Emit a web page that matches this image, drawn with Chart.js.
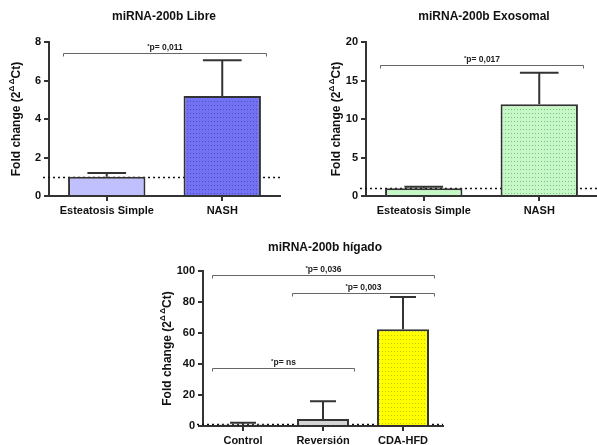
<!DOCTYPE html>
<html>
<head>
<meta charset="utf-8">
<script src="https://cdn.jsdelivr.net/npm/chart.js@4.4.0/dist/chart.umd.min.js"></script>
<style>
  body { margin: 0; background: #fff; }
  .box { position: absolute; }
</style>
</head>
<body>
<div class="box" style="left:0;top:0;width:297px;height:222px"><canvas id="libre"></canvas></div>
<div class="box" style="left:297px;top:0;width:300px;height:222px"><canvas id="exo"></canvas></div>
<div class="box" style="left:150px;top:222px;width:300px;height:223px"><canvas id="higado"></canvas></div>
<script>
const libreLabels = ['Esteatosis Simple', 'NASH'];
const libreMean = [1.0, 5.2];
const libreSem = [0.2, 1.85];

const exoLabels = ['Esteatosis Simple', 'NASH'];
const exoMean = [1.0, 11.9];
const exoSem = [0.2, 4.1];

const higadoLabels = ['Control', 'Reversión', 'CDA-HFD'];
const higadoMean = [0.9, 4.5, 62.5];
const higadoSem = [1.2, 11.5, 20.8];

// significance brackets: [first bar, last bar, height on y axis, p text]
const libreSig = [[0, 1, 7.45, 'p= 0,011']];
const exoSig = [[0, 1, 17.0, 'p= 0,017']];
const higadoSig = [[0, 2, 97.4, 'p= 0,036'], [1, 2, 85.8, 'p= 0,003'], [0, 1, 37.4, 'p= ns']];

const FONT = "'Liberation Sans', Arial, sans-serif";
const AXIS = '#333';

// dotted fill like the GraphPad bars
function dots(canvasId, bg, fg) {
    const c = document.createElement('canvas');
    c.width = 3; c.height = 4;
    const g = c.getContext('2d');
    g.fillStyle = bg; g.fillRect(0, 0, 3, 4);
    g.fillStyle = fg; g.fillRect(1, 1, 1, 1);
    return document.getElementById(canvasId).getContext('2d').createPattern(c, 'repeat');
}

function extras(cfg) {
    return {
        id: 'extras',
        beforeDatasetsDraw(chart) {
            // dotted reference line at fold change = 1
            const { ctx, chartArea: a, scales: { y } } = chart;
            const py = Math.round(y.getPixelForValue(1)) + 0.5;
            ctx.save();
            ctx.strokeStyle = '#111';
            ctx.lineWidth = 1.5;
            ctx.setLineDash([2, 3]);
            ctx.beginPath();
            ctx.moveTo(a.left - 6, py);
            ctx.lineTo(a.right, py);
            ctx.stroke();
            ctx.restore();
        },
        afterDatasetsDraw(chart) {
            const { ctx, scales: { y } } = chart;
            const bars = chart.getDatasetMeta(0).data;
            ctx.save();

            // upper error bars (SEM)
            ctx.strokeStyle = AXIS;
            ctx.lineWidth = 2;
            bars.forEach((bar, i) => {
                const top = y.getPixelForValue(cfg.mean[i] + cfg.sem[i]);
                const half = bar.width / 4;
                ctx.beginPath();
                ctx.moveTo(bar.x, bar.y);
                ctx.lineTo(bar.x, top);
                ctx.moveTo(bar.x - half, top);
                ctx.lineTo(bar.x + half, top);
                ctx.stroke();
            });

            // significance brackets
            ctx.strokeStyle = '#666';
            ctx.lineWidth = 1;
            ctx.fillStyle = '#222';
            ctx.textBaseline = 'alphabetic';
            cfg.sig.forEach(([a, b, h, txt]) => {
                const x1 = Math.round(bars[a].x - bars[a].width / 2 - 5) + 0.5;
                const x2 = Math.round(bars[b].x + bars[b].width / 2 + 5) + 0.5;
                const py = Math.round(y.getPixelForValue(h)) + 0.5;
                ctx.beginPath();
                ctx.moveTo(x1, py + 3);
                ctx.lineTo(x1, py);
                ctx.lineTo(x2, py);
                ctx.lineTo(x2, py + 3);
                ctx.stroke();

                ctx.font = 'bold 6px ' + FONT;
                const wStar = ctx.measureText('*').width;
                ctx.font = 'bold 8.5px ' + FONT;
                const wTxt = ctx.measureText(txt).width;
                let x = (x1 + x2) / 2 - (wStar + wTxt) / 2;
                ctx.font = 'bold 6px ' + FONT;
                ctx.textAlign = 'left';
                ctx.fillText('*', x, py - 6);
                ctx.font = 'bold 8.5px ' + FONT;
                ctx.fillText(txt, x + wStar, py - 4);
            });
            ctx.restore();
        },
        afterDraw(chart) {
            const { ctx, chartArea: a } = chart;
            ctx.save();
            ctx.fillStyle = '#111';

            // chart title
            ctx.font = 'bold 12px ' + FONT;
            ctx.textAlign = 'center';
            ctx.textBaseline = 'middle';
            ctx.fillText(cfg.title, cfg.titleX, cfg.titleY);

            // y axis title with superscript
            ctx.translate(cfg.yTitleX, (a.top + a.bottom) / 2);
            ctx.rotate(-Math.PI / 2);
            ctx.textAlign = 'left';
            const parts = [['Fold change (2', 12, 0], ['\u0394\u2009\u0394', 8, -5], ['Ct)', 12, 0]];
            let total = 0;
            parts.forEach(p => { ctx.font = 'bold ' + p[1] + 'px ' + FONT; total += ctx.measureText(p[0]).width; });
            let x = -total / 2;
            parts.forEach(p => {
                ctx.font = 'bold ' + p[1] + 'px ' + FONT;
                ctx.fillText(p[0], x, p[2]);
                x += ctx.measureText(p[0]).width;
            });
            ctx.restore();
        }
    };
}

function makeChart(id, cfg) {
    const tickFont = { family: FONT, size: 11, weight: 'bold' };
    return new Chart(document.getElementById(id), {
        type: 'bar',
        data: {
            labels: cfg.labels,
            datasets: [{
                data: cfg.mean,
                backgroundColor: cfg.colors,
                borderColor: AXIS,
                borderWidth: 2,
                categoryPercentage: 1,
                barPercentage: cfg.barPct
            }]
        },
        options: {
            responsive: true,
            maintainAspectRatio: false,
            animation: false,
            layout: { padding: { top: cfg.top, right: cfg.right, left: 0, bottom: 0 } },
            plugins: { legend: { display: false }, tooltip: { enabled: false }, title: { display: false } },
            scales: {
                x: {
                    grid: { display: true, drawOnChartArea: false, offset: false, tickLength: 5, color: AXIS, lineWidth: 2 },
                    border: { color: AXIS, width: 2 },
                    ticks: { color: '#111', font: tickFont, padding: 3, maxRotation: 0, autoSkip: false },
                    afterFit(s) { s.height = cfg.bottomH; }
                },
                y: {
                    min: 0,
                    max: cfg.max,
                    grid: { display: true, drawOnChartArea: false, tickLength: 5, color: AXIS, lineWidth: 2 },
                    border: { color: AXIS, width: 2 },
                    ticks: { stepSize: cfg.step, color: '#111', font: tickFont, padding: 3 },
                    afterFit(s) { s.width = cfg.left; }
                }
            }
        },
        plugins: [extras(cfg)]
    });
}

makeChart('libre', {
    labels: libreLabels, mean: libreMean, sem: libreSem, sig: libreSig,
    colors: ['#c0c0ff', dots('libre', '#7272f2', '#4c4cc8')],
    barPct: 0.67, max: 8, step: 2,
    left: 49, right: 17, top: 42, bottomH: 26,
    title: 'miRNA-200b Libre', titleX: 164, titleY: 17, yTitleX: 17
});

makeChart('exo', {
    labels: exoLabels, mean: exoMean, sem: exoSem, sig: exoSig,
    colors: ['#c6f7c6', dots('exo', '#c6f7c6', '#7fbf7f')],
    barPct: 0.67, max: 20, step: 5,
    left: 69, right: 0, top: 42, bottomH: 26,
    title: 'miRNA-200b Exosomal', titleX: 187, titleY: 17, yTitleX: 40
});

makeChart('higado', {
    labels: higadoLabels, mean: higadoMean, sem: higadoSem, sig: higadoSig,
    colors: ['#ffffff', '#d4d4d4', dots('higado', '#ffff00', '#c8c800')],
    barPct: 0.65, max: 100, step: 20,
    left: 53, right: 7, top: 49, bottomH: 19,
    title: 'miRNA-200b hígado', titleX: 175, titleY: 26, yTitleX: 18
});
</script>
</body>
</html>
